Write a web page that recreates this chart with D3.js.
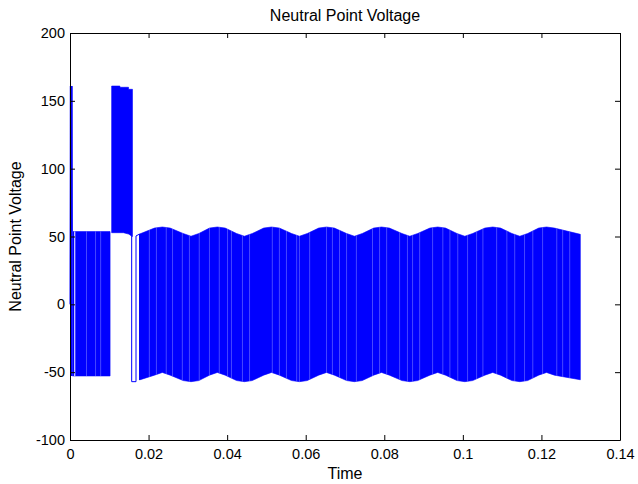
<!DOCTYPE html>
<html>
<head>
<meta charset="utf-8">
<script src="https://cdn.jsdelivr.net/npm/d3@7"></script>
<style>
  body { margin: 0; background: #fff; }
  text { font-family: "Liberation Sans", Arial, Helvetica, sans-serif; }
</style>
</head>
<body>
<svg id="chart" width="638" height="484"></svg>
<script>
// values

// very first switching at t = 0
const startTime = [0, 0.0001, 0.0002, 0.0003, 0.0004, 0.0005, 0.0006];
const startValue = [0, 160.9, -52.8, 160.9, -52.8, 160.9, 53.6];

// first band, switching between about +53 and -53
const bandATime = [0.0006, 0.0102];
const bandAUpper = [53.6, 53.6];
const bandALower = [-52.8, -52.8];

// second band, switching between about 160 and 53
const bandBTime = [0.0106, 0.0127, 0.0127, 0.0136, 0.0149, 0.0149, 0.0154, 0.0159];
const bandBUpper = [160.9, 160.9, 160.0, 160.0, 160.0, 158.5, 158.5, 158.5];
const bandBLower = [52.8, 52.8, 52.8, 52.8, 51.8, 51.8, 51.0, 50.0];

// the few single pulses between the second and third band
const gapTime = [0.0154, 0.0157, 0.0157, 0.0168, 0.0168, 0.0177, 0.0177];
const gapValue = [51.0, 50.5, -57.0, -57.0, 50.4, 51.8, -55.7];

// third band, +/-53 with the neutral point ripple on it
const bandCTime = [0.0177, 0.0215, 0.0235, 0.0255, 0.0288, 0.0308, 0.0328,
  0.0355, 0.0375, 0.0395, 0.0424, 0.0444, 0.0464, 0.0493, 0.0513, 0.0533,
  0.0564, 0.0584, 0.0604, 0.0633, 0.0653, 0.0673, 0.0704, 0.0724, 0.0744,
  0.0773, 0.0793, 0.0813, 0.0845, 0.0865, 0.0885, 0.0916, 0.0936, 0.0956,
  0.0985, 0.1005, 0.1025, 0.1056, 0.1076, 0.1096, 0.1125, 0.1145, 0.1165,
  0.1193, 0.1213, 0.1233, 0.1299];
const bandCUpper = [51.8, 56.2, 57.0, 56.2, 52.2, 50.2, 52.2,
  56.2, 57.0, 56.2, 52.2, 50.2, 52.2, 56.2, 57.0, 56.2,
  52.2, 50.2, 52.2, 56.2, 57.0, 56.2, 52.2, 50.2, 52.2,
  56.2, 57.0, 56.2, 52.2, 50.2, 52.2, 56.2, 57.0, 56.2,
  52.2, 50.2, 52.2, 56.2, 57.0, 56.2, 52.2, 50.2, 52.2,
  56.2, 57.0, 56.2, 51.6];
const bandCLower = [-55.7, -52.2, -50.2, -52.2, -56.2, -57.0, -56.2,
  -52.2, -50.2, -52.2, -56.2, -57.0, -56.2, -52.2, -50.2, -52.2,
  -56.2, -57.0, -56.2, -52.2, -50.2, -52.2, -56.2, -57.0, -56.2,
  -52.2, -50.2, -52.2, -56.2, -57.0, -56.2, -52.2, -50.2, -52.2,
  -56.2, -57.0, -56.2, -52.2, -50.2, -52.2, -56.2, -57.0, -56.2,
  -52.2, -50.2, -52.2, -55.6];

// lighter gaps between the switching lines
const strongGaps = [0.0012];
const lightGaps = [0.0042, 0.0065, 0.0078,
  0.0202, 0.0220, 0.0245, 0.0261, 0.0286, 0.0304, 0.0329, 0.0355, 0.0380,
  0.0401, 0.0411, 0.0439, 0.0457, 0.0515, 0.0533, 0.0551, 0.0577, 0.0584,
  0.0610, 0.0653, 0.0668, 0.0686, 0.0704, 0.0729, 0.0770, 0.0788, 0.0806,
  0.0839, 0.0859, 0.0872, 0.0890, 0.0923, 0.0949, 0.0967, 0.0987, 0.1012,
  0.1035, 0.1051, 0.1086, 0.1112, 0.1132, 0.1157, 0.1178, 0.1203, 0.1239,
  0.1254, 0.1272];

// ticks
const xTicks = [0, 0.02, 0.04, 0.06, 0.08, 0.1, 0.12, 0.14];
const xTickLabels = ["0", "0.02", "0.04", "0.06", "0.08", "0.1", "0.12", "0.14"];
const yTicks = [-100, -50, 0, 50, 100, 150, 200];
const yTickLabels = ["-100", "-50", "0", "50", "100", "150", "200"];

const titleText = "Neutral Point Voltage";
const xLabelText = "Time";
const yLabelText = "Neutral Point Voltage";

const blue = "#0000ff";
const plotLeft = 70, plotRight = 620, plotTop = 33, plotBottom = 440;

const svg = d3.select("#chart");

const x = d3.scaleLinear().domain([0, 0.14]).range([plotLeft, plotRight]);
const y = d3.scaleLinear().domain([-100, 200]).range([plotBottom, plotTop]);

function bandRows(times, upper, lower) {
    return times.map((t, i) => ({ t: t, hi: upper[i], lo: lower[i] }));
}

const area = d3.area()
    .x(d => x(d.t))
    .y0(d => y(d.lo))
    .y1(d => y(d.hi));

const line = d3.line()
    .x(d => x(d.t))
    .y(d => y(d.v));

const bandA = bandRows(bandATime, bandAUpper, bandALower);
const bandB = bandRows(bandBTime, bandBUpper, bandBLower);
const bandC = bandRows(bandCTime, bandCUpper, bandCLower);

// clip for the gap streaks, so they stay inside the bands
const clip = svg.append("defs").append("clipPath").attr("id", "bands");
clip.append("path").attr("d", area(bandA));
clip.append("path").attr("d", area(bandC));

const plot = svg.append("g");

[bandA, bandB, bandC].forEach(band => {
    plot.append("path")
        .attr("d", area(band))
        .attr("fill", blue)
        .attr("stroke", blue)
        .attr("stroke-width", 0.6);
});

plot.append("path")
    .attr("d", line(startTime.map((t, i) => ({ t: t, v: startValue[i] }))))
    .attr("fill", "none")
    .attr("stroke", blue)
    .attr("stroke-width", 1);

plot.append("path")
    .attr("d", line(gapTime.map((t, i) => ({ t: t, v: gapValue[i] }))))
    .attr("fill", "none")
    .attr("stroke", blue)
    .attr("stroke-width", 1);

const streaks = plot.append("g").attr("clip-path", "url(#bands)");
streaks.selectAll(".light")
    .data(lightGaps)
    .enter()
    .append("line")
    .attr("class", "light")
    .attr("x1", d => x(d))
    .attr("x2", d => x(d))
    .attr("y1", y(200))
    .attr("y2", y(-100))
    .attr("stroke", "#fff")
    .attr("stroke-opacity", 0.28)
    .attr("stroke-width", 1);
streaks.selectAll(".strong")
    .data(strongGaps)
    .enter()
    .append("line")
    .attr("class", "strong")
    .attr("x1", d => x(d))
    .attr("x2", d => x(d))
    .attr("y1", y(200))
    .attr("y2", y(-100))
    .attr("stroke", "#fff")
    .attr("stroke-opacity", 0.85)
    .attr("stroke-width", 1.2);

// axes: matlab box with inward ticks on all four sides
function styleAxis(g) {
    g.select(".domain").attr("stroke", "#000").attr("stroke-width", 1);
    g.selectAll(".tick line").attr("stroke", "#000");
    g.selectAll(".tick text").attr("fill", "#000").style("font-size", "14.5px")
        .style("font-family", "'Liberation Sans', Arial, sans-serif");
}

svg.append("g")
    .attr("transform", `translate(0,${plotBottom})`)
    .call(d3.axisBottom(x).tickValues(xTicks)
        .tickFormat(d => xTickLabels[xTicks.indexOf(d)])
        .tickSizeInner(-5).tickSizeOuter(0).tickPadding(9))
    .call(styleAxis);

svg.append("g")
    .attr("transform", `translate(0,${plotTop})`)
    .call(d3.axisTop(x).tickValues(xTicks).tickFormat("")
        .tickSizeInner(-5).tickSizeOuter(0))
    .call(styleAxis);

svg.append("g")
    .attr("transform", `translate(${plotLeft},0)`)
    .call(d3.axisLeft(y).tickValues(yTicks)
        .tickFormat(d => yTickLabels[yTicks.indexOf(d)])
        .tickSizeInner(-5).tickSizeOuter(0).tickPadding(5))
    .call(styleAxis);

svg.append("g")
    .attr("transform", `translate(${plotRight},0)`)
    .call(d3.axisRight(y).tickValues(yTicks).tickFormat("")
        .tickSizeInner(-5).tickSizeOuter(0))
    .call(styleAxis);

// title and labels
svg.append("text")
    .attr("x", (plotLeft + plotRight) / 2)
    .attr("y", 21)
    .attr("text-anchor", "middle")
    .style("font-size", "16px")
    .text(titleText);

svg.append("text")
    .attr("x", (plotLeft + plotRight) / 2)
    .attr("y", 479)
    .attr("text-anchor", "middle")
    .style("font-size", "16px")
    .text(xLabelText);

svg.append("text")
    .attr("transform", `translate(21,${(plotTop + plotBottom) / 2}) rotate(-90)`)
    .attr("text-anchor", "middle")
    .style("font-size", "16px")
    .text(yLabelText);
</script>
</body>
</html>
